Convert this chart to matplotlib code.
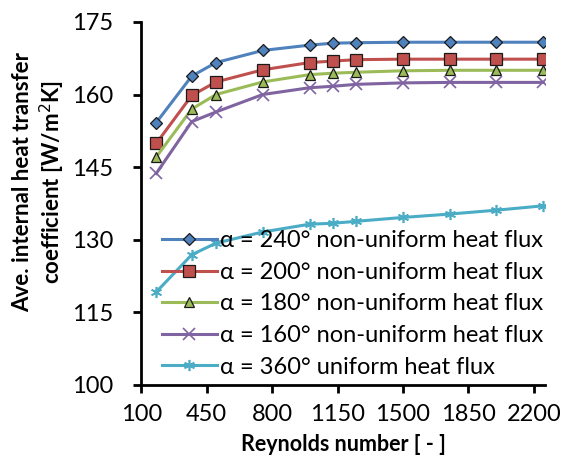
import numpy as np
import matplotlib
matplotlib.use('Agg')
import matplotlib.pyplot as plt

# -----------------------------------
# Data
reynolds = [180, 370, 500, 750, 1000, 1125, 1250, 1500, 1750, 2000, 2250]

h_240 = [154.2, 163.8, 166.6, 169.1, 170.2, 170.6, 170.7, 170.8, 170.8, 170.8, 170.8]
h_200 = [149.9, 159.8, 162.6, 165.1, 166.6, 166.9, 167.2, 167.3, 167.3, 167.3, 167.3]
h_180 = [147.1, 157.0, 160.0, 162.6, 164.1, 164.4, 164.6, 164.9, 165.0, 165.0, 165.0]
h_160 = [143.7, 154.4, 156.4, 160.0, 161.4, 161.7, 162.1, 162.4, 162.5, 162.5, 162.5]
h_360 = [119.2, 126.9, 129.3, 131.6, 133.2, 133.4, 133.8, 134.6, 135.3, 136.1, 137.0]

labels = ['α = 240° non-uniform heat flux',
          'α = 200° non-uniform heat flux',
          'α = 180° non-uniform heat flux',
          'α = 160° non-uniform heat flux',
          'α = 360° uniform heat flux']
x_ticks = [100, 450, 800, 1150, 1500, 1850, 2200]
y_ticks = [100, 115, 130, 145, 160, 175]
# -----------------------------------

plt.rcParams['font.family'] = ['Lato', 'DejaVu Sans']

fig = plt.figure(figsize=(5.63, 4.66), dpi=100)
ax = fig.add_axes([0.251, 0.174, 0.717, 0.779])

series = [h_240, h_200, h_180, h_160, h_360]
colors = ['#4F81BD', '#C0504D', '#9BBB59', '#8064A2', '#4BACC6']
markers = ['D', 's', '^', 'x', (6, 2, 0)]
msizes = [6, 8, 7, 8, 8]

for ys, lab, c, m, ms in zip(series, labels, colors, markers, msizes):
    if m in ('x', (6, 2, 0)):
        ax.plot(reynolds, ys, color=c, linewidth=2.2, marker=m, markersize=ms,
                markeredgecolor=c, markeredgewidth=1.2, label=lab)
    else:
        ax.plot(reynolds, ys, color=c, linewidth=2.2, marker=m, markersize=ms,
                markerfacecolor=c, markeredgecolor='#1a1a1a', markeredgewidth=0.9,
                label=lab)

ax.set_xlim(100, 2260)
ax.set_ylim(100, 175)
ax.set_xticks(x_ticks)
ax.set_yticks(y_ticks)

for s in ['top', 'right']:
    ax.spines[s].set_visible(False)
for s in ['left', 'bottom']:
    ax.spines[s].set_linewidth(2)
ax.tick_params(axis='both', direction='out', length=6, width=2, labelsize=17,
               colors='black')
ax.tick_params(axis='y', pad=14)
ax.tick_params(axis='x', pad=8)

ax.set_xlabel('Reynolds number [ - ]', fontsize=15.5, fontweight='bold', labelpad=6)
ax.set_ylabel('Ave. internal heat transfer\ncoefficient [W/m$^2$K]', fontsize=16,
              fontweight='bold', linespacing=1.25)
ax.yaxis.set_label_coords(-0.183, 0.56)

leg = ax.legend(loc='lower left', bbox_to_anchor=(0.052, 0.02), frameon=False,
                fontsize=17, handlelength=2.3, handletextpad=0.15,
                labelspacing=0.45, borderaxespad=0.0, borderpad=0.0)

fig.savefig('out.png', dpi=100)
